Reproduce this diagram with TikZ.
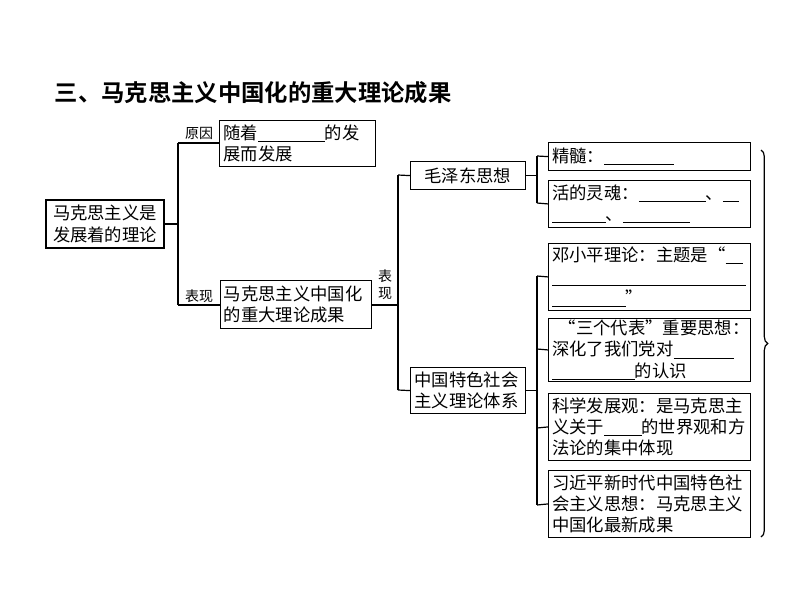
\documentclass[tikz,border=0pt]{standalone}
\usepackage{fontspec}
\setmainfont{Noto Sans CJK SC}
\newfontfamily\cjkb{Noto Sans CJK SC Bold}
\usetikzlibrary{decorations.pathreplacing}
\newcommand{\blank}[1]{\rule[-2pt]{#1}{0.6pt}}
\tikzset{
  box/.style={draw,line width=0.9pt,anchor=north west,inner xsep=2.5pt,inner ysep=1pt,font=\fontsize{13}{16}\selectfont,align=left},
  fbox/.style={box,minimum width=151.5pt,text width=146pt},
  lab/.style={font=\fontsize{10.5}{12}\selectfont,inner sep=0pt},
  ln/.style={line width=0.9pt}
}
\begin{document}
\begin{tikzpicture}[x=0.75pt,y=-0.75pt]
\useasboundingbox[fill=white] (0,0) rectangle (794,596);
\node[anchor=west,font=\fontsize{17.5}{20}\selectfont\cjkb] (title) at (50,93) {三、马克思主义中国化的重大理论成果};
\node[box,anchor=center,minimum width=88.5pt,minimum height=36pt] (A) at (105,224) {马克思主义是\\发展着的理论};
\node[box,minimum width=117pt,minimum height=34.5pt,text width=111pt] (B) at (219,120) {随着\blank{50pt}的发\\展而发展};
\node[box,minimum width=113pt,minimum height=36pt,text width=108pt] (C) at (220,280) {马克思主义中国化\\的重大理论成果};
\node[box,align=center,minimum width=86pt,minimum height=21pt] (D) at (410,161) {毛泽东思想};
\node[box,minimum width=86pt,minimum height=34.5pt,text width=80pt] (E) at (410,367) {中国特色社会\\主义理论体系};
\node[fbox,minimum height=21pt] (F1) at (548,142) {精髓：\blank{52pt}};
\node[fbox,minimum height=35pt] (F2) at (548,180) {活的灵魂：\blank{50pt}、\blank{12pt}\\\blank{40pt}、\blank{50pt}};
\node[fbox,minimum height=50pt] (F3) at (548,243) {邓小平理论：主题是“\blank{13pt}\\\blank{145pt}\\\blank{55pt}”};
\node[fbox,minimum height=46.5pt] (F4) at (548,318) {\hspace*{5pt}“三个代表”重要思想：\\深化了我们党对\blank{45pt}\\\blank{62pt}的认识};
\node[fbox,minimum height=50pt] (F5) at (548,393) {科学发展观：是马克思主\\义关于\blank{28pt}的世界观和方\\法论的集中体现};
\node[fbox,minimum height=50pt] (F6) at (548,470) {习近平新时代中国特色社\\会主义思想：马克思主义\\中国化最新成果};
% level 1
\coordinate (j1) at (178,224);
\coordinate (j1t) at (178,143);
\coordinate (j1b) at (178,305);
\draw[ln] (A.east) -- (j1);
\draw[ln] (j1t) -- (j1b);
\draw[ln] (j1t) -- (j1t -| B.west);
\draw[ln] (j1b) -- (j1b -| C.west);
\node[lab] (l1) at (199,133) {原因};
\node[lab] (l2) at (199,296) {表现};
% level 2
\coordinate (j2) at (398,305);
\coordinate (j2t) at (398,175);
\coordinate (j2b) at (398,390);
\draw[ln] (j1b -| C.east) -- (j2);
\draw[ln] (j2t) -- (j2b);
\draw[ln] (j2t) -- (D.west);
\draw[ln] (j2b) -- (E.west);
\node[lab] (l3) at (385,276) {表};
\node[lab] (l4) at (385,294) {现};
% level 3
\coordinate (j3a) at (537,156);
\coordinate (j3b) at (537,203);
\draw[ln] (D.east) -- (D.east -| j3a);
\draw[ln] (j3a) -- (j3b);
\draw[ln] (j3a) -- (F1.west);
\draw[ln] (j3b) -- (F2.west);
\coordinate (k1) at (537,276);
\coordinate (k4) at (537,505);
\draw[ln] (E.east) -- (E.east -| k1);
\draw[ln] (k1) -- (k4);
\draw[ln] (k1) -- (F3.west);
\draw[ln] (537,349) -- (F4.west);
\draw[ln] (537,428) -- (F5.west);
\draw[ln] (k4) -- (F6.west);
% brace
\draw[ln,decorate,decoration={brace,amplitude=5pt}] (761,150) -- (761,537);
\end{tikzpicture}
\end{document}
